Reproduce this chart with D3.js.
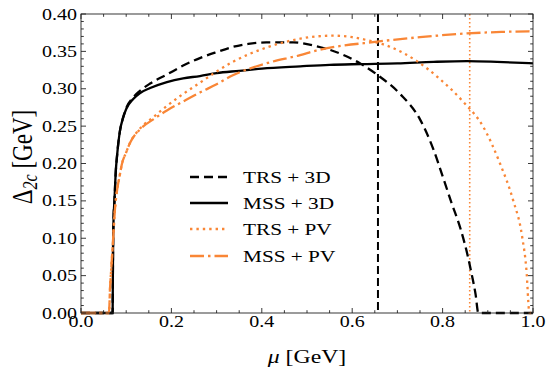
<!DOCTYPE html>
<html><head><meta charset="utf-8">
<script src="https://cdn.jsdelivr.net/npm/d3@7"></script>
<style>body{margin:0;background:#fff}svg{display:block}</style>
</head><body>
<script>
// ---- data ----
const xTicks = [0.0, 0.2, 0.4, 0.6, 0.8, 1.0];
const yTicks = [0.00, 0.05, 0.10, 0.15, 0.20, 0.25, 0.30, 0.35, 0.40];
const seriesNames = ["TRS + 3D", "MSS + 3D", "TRS + PV", "MSS + PV"];

const mssMu = [0, 0.070, 0.0705, 0.071, 0.072, 0.074, 0.077, 0.080, 0.086, 0.093, 0.100, 0.115, 0.130, 0.153, 0.19, 0.226, 0.263, 0.30, 0.35, 0.40, 0.485, 0.55, 0.62, 0.70, 0.78, 0.854, 0.92, 1.0];
const mss3D = [0, 0, 0.05, 0.09, 0.125, 0.15, 0.19, 0.212, 0.243, 0.261, 0.273, 0.286, 0.294, 0.301, 0.309, 0.314, 0.317, 0.321, 0.324, 0.327, 0.330, 0.332, 0.333, 0.334, 0.336, 0.337, 0.336, 0.334];

const trs3DMu = [0, 0.070, 0.0705, 0.071, 0.072, 0.074, 0.077, 0.080, 0.086, 0.093, 0.100, 0.115, 0.130, 0.153, 0.19, 0.226, 0.263, 0.30, 0.336, 0.37, 0.41, 0.47, 0.52, 0.551, 0.617, 0.657, 0.706, 0.75, 0.779, 0.80, 0.82, 0.84, 0.855, 0.865, 0.873, 0.879, 1.0];
const trs3D = [0, 0, 0.05, 0.09, 0.125, 0.15, 0.19, 0.212, 0.243, 0.261, 0.274, 0.288, 0.297, 0.307, 0.319, 0.331, 0.341, 0.349, 0.356, 0.360, 0.362, 0.362, 0.357, 0.352, 0.334, 0.318, 0.293, 0.259, 0.22, 0.183, 0.147, 0.112, 0.078, 0.05, 0.025, 0, 0];

const trsPVMu = [0, 0.062, 0.064, 0.067, 0.070, 0.075, 0.080, 0.086, 0.090, 0.100, 0.108, 0.131, 0.160, 0.19, 0.226, 0.263, 0.30, 0.336, 0.41, 0.485, 0.52, 0.558, 0.60, 0.633, 0.684, 0.743, 0.794, 0.845, 0.89, 0.927, 0.956, 0.976, 0.986, 0.991, 0.992, 1.0];
const trsPV = [0, 0, 0.03, 0.06, 0.088, 0.138, 0.165, 0.185, 0.198, 0.215, 0.227, 0.247, 0.262, 0.277, 0.293, 0.308, 0.323, 0.336, 0.355, 0.367, 0.370, 0.371, 0.369, 0.365, 0.356, 0.337, 0.313, 0.283, 0.249, 0.2, 0.151, 0.102, 0.053, 0.004, 0, 0];

const mssPVMu = [0, 0.062, 0.064, 0.067, 0.070, 0.075, 0.080, 0.086, 0.090, 0.100, 0.108, 0.131, 0.160, 0.19, 0.226, 0.263, 0.30, 0.336, 0.41, 0.485, 0.52, 0.655, 0.75, 0.854, 0.93, 1.0];
const mssPV = [0, 0, 0.03, 0.06, 0.088, 0.138, 0.165, 0.185, 0.198, 0.215, 0.227, 0.246, 0.259, 0.271, 0.283, 0.295, 0.306, 0.318, 0.334, 0.345, 0.351, 0.363, 0.369, 0.374, 0.376, 0.377];

const vlineTRS3D = 0.657;
const vlineTRSPV = 0.86;

// ---- layout ----
const W = 550, H = 374;
const L = 81, R = 533, T = 14, B = 313;
const orange = "#f98636";
const SX = 1.25;
const FONT = "'Liberation Serif', 'DejaVu Serif', serif";

const svg = d3.select("body").append("svg").attr("width", W).attr("height", H);
const x = d3.scaleLinear().domain([0, 1]).range([L, R]);
const y = d3.scaleLinear().domain([0, 0.4]).range([B, T]);

function txt(g, px, py, s, size, anchor) {
  return g.append("text")
    .attr("transform", `translate(${px},${py}) scale(${SX},1)`)
    .attr("text-anchor", anchor || "start")
    .attr("font-family", FONT).attr("font-size", size).attr("fill", "#000")
    .text(s);
}

// ---- curves ----
const line = d3.line().x(d => x(d[0])).y(d => y(d[1])).curve(d3.curveMonotoneX);
const zip = (a, b) => a.map((v, i) => [v, b[i]]);

const curves = [
  {d: zip(trs3DMu, trs3D), color: "#000", w: 2.3, dash: "9,5"},
  {d: zip(mssMu, mss3D), color: "#000", w: 2.3, dash: null},
  {d: zip(trsPVMu, trsPV), color: orange, w: 2.3, dash: "2.4,4"},
  {d: zip(mssPVMu, mssPV), color: orange, w: 2.3, dash: "14,4,2.5,4"}
];

// vertical lines
svg.append("line").attr("x1", x(vlineTRS3D)).attr("x2", x(vlineTRS3D)).attr("y1", y(0.4)).attr("y2", y(0))
  .attr("stroke", "#000").attr("stroke-width", 2).attr("stroke-dasharray", "8,4");
svg.append("line").attr("x1", x(vlineTRSPV)).attr("x2", x(vlineTRSPV)).attr("y1", y(0.4)).attr("y2", y(0))
  .attr("stroke", orange).attr("stroke-width", 1.6).attr("stroke-dasharray", "1.6,2.4");

curves.forEach(c => {
  svg.append("path").attr("d", line(c.d)).attr("fill", "none")
    .attr("stroke", c.color).attr("stroke-width", c.w)
    .attr("stroke-dasharray", c.dash);
});

// ---- frame & ticks ----
const axG = svg.append("g").attr("stroke", "#222").attr("stroke-width", 0.9);
axG.append("rect").attr("x", L).attr("y", T).attr("width", R - L).attr("height", B - T).attr("fill", "none");

const xMinor = d3.range(0, 1.0001, 0.05);
const yMinor = d3.range(0, 0.4001, 0.01);
xMinor.forEach(v => {
  const isMaj = Math.abs(v * 5 - Math.round(v * 5)) < 1e-6;
  const len = isMaj ? 5 : 2.8;
  axG.append("line").attr("x1", x(v)).attr("x2", x(v)).attr("y1", B).attr("y2", B - len);
  axG.append("line").attr("x1", x(v)).attr("x2", x(v)).attr("y1", T).attr("y2", T + len);
});
yMinor.forEach(v => {
  const isMaj = Math.abs(v * 20 - Math.round(v * 20)) < 1e-6;
  const len = isMaj ? 5 : 2.8;
  axG.append("line").attr("x1", L).attr("x2", L + len).attr("y1", y(v)).attr("y2", y(v));
  axG.append("line").attr("x1", R).attr("x2", R - len).attr("y1", y(v)).attr("y2", y(v));
});

// tick labels
const tg = svg.append("g");
xTicks.forEach(v => txt(tg, x(v), 327, v.toFixed(1), 16, "middle"));
yTicks.forEach(v => txt(tg, 77, y(v) + 5.6, v.toFixed(2), 16, "end"));

// axis labels
const xl = svg.append("text").attr("transform", `translate(${(L + R) / 2},363) scale(${SX},1)`)
  .attr("text-anchor", "middle").attr("font-family", FONT).attr("font-size", 19);
xl.append("tspan").attr("font-style", "italic").text("μ");
xl.append("tspan").text(" [GeV]");

const yl = svg.append("text").attr("transform", `translate(32,157) rotate(-90) scale(1,${SX})`)
  .attr("text-anchor", "middle").attr("font-family", FONT).attr("font-size", 23);
yl.append("tspan").text("Δ");
yl.append("tspan").attr("font-size", 16).attr("font-style", "italic").attr("dy", 4).text("2c");
yl.append("tspan").attr("dy", -4).text(" [GeV]");

// ---- legend ----
const lg = svg.append("g");
const rowY = [177, 203, 229, 256];
curves.forEach((c, i) => {
  lg.append("line").attr("x1", 190).attr("x2", 228).attr("y1", rowY[i]).attr("y2", rowY[i])
    .attr("stroke", c.color).attr("stroke-width", c.w).attr("stroke-dasharray", c.dash);
  txt(lg, 243, rowY[i] + 6, seriesNames[i], 17, "start");
});
</script>
</body></html>
